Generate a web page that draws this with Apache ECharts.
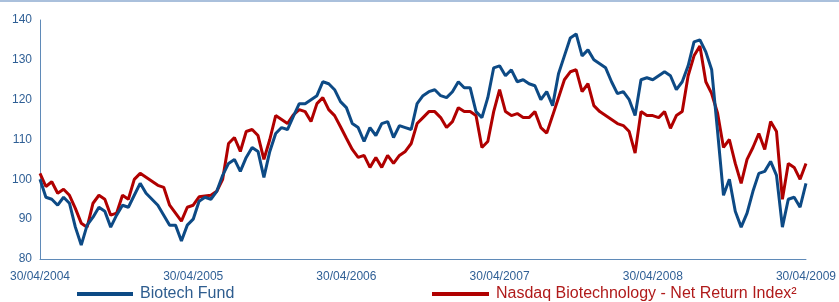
<!DOCTYPE html>
<html>
<head>
<meta charset="utf-8">
<script src="https://cdn.jsdelivr.net/npm/echarts@6/dist/echarts.min.js"></script>
<style>
  html, body { margin: 0; padding: 0; background: #fff; }
  #chart { width: 839px; height: 302px; }
</style>
</head>
<body>
<div id="chart"></div>
<script>
// fortnightly values, 30/04/2004 -> 30/04/2009 (26 points per year)
var tickLabels = ['30/04/2004', '30/04/2005', '30/04/2006', '30/04/2007', '30/04/2008', '30/04/2009'];

var biotechFund = [
  100, 95.5, 95, 93.5, 95.5, 94, 88, 83.5, 88.5, 90.5,
  93, 92, 88, 91, 93.5, 93, 96, 99, 96.5, 95,
  93.5, 91, 88.5, 88.5, 84.5, 88.5, 90, 94.5, 95.5, 95,
  97, 101, 104, 105, 102, 105.5, 108, 107, 100.5, 107,
  111.5, 113, 112.5, 115.8, 119, 119, 120, 121, 124.5, 124,
  122.5, 119.5, 118, 114, 113, 109.5, 113, 111, 114, 114.5,
  110.5, 113.5, 113, 112.5, 119, 121, 122, 122.5, 121, 120.5,
  122, 124.5, 123, 123, 117, 115.5, 120.5, 128, 128.5, 126,
  127.5, 124.5, 125, 124, 123.5, 120, 122, 118.5, 126.5, 131,
  135.5, 136.5, 131, 132.5, 130, 129, 128, 124.5, 121.5, 122,
  120, 116, 125, 125.5, 125, 126, 127, 126, 122.5, 124.5,
  128.5, 134.5, 135, 132, 127.5, 112, 96, 100, 92, 88,
  91.5, 97, 101.5, 102, 104.5, 101, 88, 95, 95.5, 93,
  99
];

var nasdaqBiotech = [
  101.5, 98.2, 99.4, 96.5, 97.5, 96, 92.7, 89, 88, 94,
  96, 95, 91, 91.5, 96, 95, 100, 101.5, 100.5, 99.5,
  98.5, 98, 93.5, 91.5, 89.5, 93, 93.5, 95.6, 95.8, 96,
  97, 100, 109, 110.5, 107, 112, 112.5, 111, 105, 110,
  116, 115, 114, 116.2, 117.5, 117, 114.5, 119, 120.5, 117.5,
  116, 113.2, 110.3, 107.5, 105.5, 106, 103, 105.5, 103, 106,
  104, 106, 107, 109, 114, 115.5, 117, 117, 115.5, 113,
  114.5, 118, 117, 117, 116, 108, 109.5, 117, 122.5, 117,
  116, 116.5, 115.5, 115.5, 117, 113, 111.6, 116, 120.5, 125,
  127, 127.5, 122, 124, 118.5, 117, 116, 115, 114, 113.5,
  112, 106.6, 117, 116, 116, 115.5, 117, 112.8, 116, 117,
  126, 131, 133.5, 124.5, 121.5, 116.6, 108, 110, 104, 99,
  105, 108, 111.5, 107.5, 114.5, 112, 95, 104, 103, 100,
  104
];

var blue = '#0d4a85';
var red = '#b00000';
var labelColor = '#2f5f95';

function toPairs(arr) {
  return arr.map(function (v, i) { return [i, v]; });
}

var chart = echarts.init(document.getElementById('chart'));
var option = {
  animation: false,
  textStyle: { fontFamily: 'Liberation Sans, Arial, sans-serif' },
  grid: { left: 40, right: 30, top: 20, bottom: 43 },
  graphic: [
    { type: 'rect', left: 0, top: 0, shape: { width: 839, height: 2 }, style: { fill: '#aac0dc' } }
  ],
  legend: [
    {
      left: 77, top: 286, padding: 0,
      itemWidth: 56, itemHeight: 4, itemGap: 0,
      icon: 'rect',
      data: ['Biotech Fund'],
      textStyle: { color: '#2e5d8f', fontSize: 16, padding: [0, 0, 0, 2] }
    },
    {
      left: 432, top: 286, padding: 0,
      itemWidth: 57, itemHeight: 4, itemGap: 0,
      icon: 'rect',
      data: ['Nasdaq Biotechnology - Net Return Index²'],
      textStyle: { color: '#b01a1a', fontSize: 16, padding: [0, 0, 0, 2] }
    }
  ],
  xAxis: {
    type: 'value',
    min: 0,
    max: 130,
    interval: 26,
    axisLine: { show: true, lineStyle: { color: '#5f8ab8', width: 1 } },
    axisTick: { show: false },
    splitLine: { show: false },
    axisLabel: {
      color: labelColor,
      fontSize: 12,
      margin: 12,
      formatter: function (v) { return tickLabels[v / 26]; }
    }
  },
  yAxis: {
    type: 'value',
    min: 80,
    max: 140,
    interval: 10,
    axisLine: { show: true, lineStyle: { color: '#5f8ab8', width: 1 } },
    axisTick: { show: false },
    splitLine: { show: false },
    axisLabel: { color: labelColor, fontSize: 12, margin: 8 }
  },
  series: [
    {
      name: 'Nasdaq Biotechnology - Net Return Index²',
      type: 'line',
      data: toPairs(nasdaqBiotech),
      showSymbol: false,
      lineStyle: { color: red, width: 3 },
      itemStyle: { color: red },
      z: 2
    },
    {
      name: 'Biotech Fund',
      type: 'line',
      data: toPairs(biotechFund),
      showSymbol: false,
      lineStyle: { color: blue, width: 3 },
      itemStyle: { color: blue },
      z: 3
    }
  ]
};
chart.setOption(option);
</script>
</body>
</html>
